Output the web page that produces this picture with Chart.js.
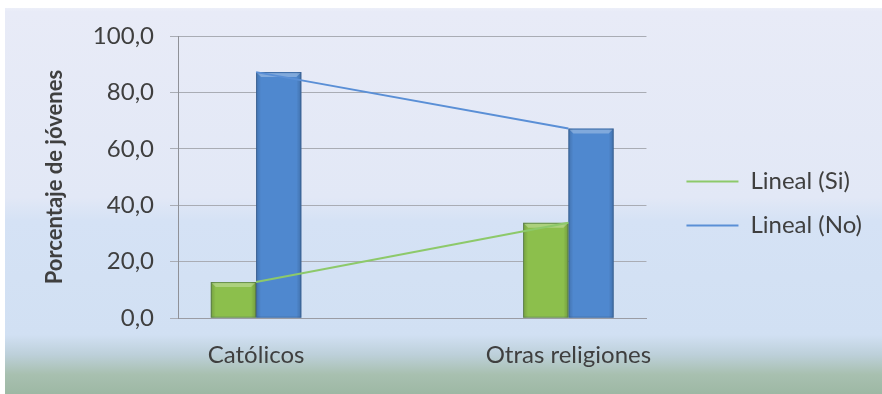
<!DOCTYPE html>
<html>
<head>
<meta charset="utf-8">
<script src="https://cdn.jsdelivr.net/npm/chart.js@4/dist/chart.umd.min.js"></script>
<style>
  html, body { margin: 0; padding: 0; background: #ffffff; }
  #wrap { width: 882px; height: 394px; position: relative; }
</style>
</head>
<body>
<div id="wrap"><canvas id="chart" width="882" height="394"></canvas></div>
<script>
// Porcentaje de jóvenes por religión
const categories = ['Católicos', 'Otras religiones'];
const valuesSi = [12.8, 33.8];
const valuesNo = [87.2, 67.2];
const yTicks = [0, 20, 40, 60, 80, 100];

const FONT = 'Lato, "Open Sans", sans-serif';
const TEXT = '#3f3f3f';

const toPoints = vals => vals.map((v, i) => ({ x: i, y: v }));

// Soft panel background: lavender on top, bluer in the middle, grey-green at the bottom
const panelBackground = {
  id: 'panelBackground',
  beforeDraw(chart) {
    const { ctx, width, height } = chart;
    ctx.save();
    ctx.fillStyle = '#ffffff';
    ctx.fillRect(0, 0, width, height);
    const g = ctx.createLinearGradient(0, 0, 0, height);
    g.addColorStop(0.00, '#f4f6fb');
    g.addColorStop(0.03, '#e8ebf7');
    g.addColorStop(0.50, '#e2e8f6');
    g.addColorStop(0.56, '#d5e2f5');
    g.addColorStop(0.85, '#d1e0f3');
    g.addColorStop(0.90, '#bdd0da');
    g.addColorStop(0.95, '#a8c0b0');
    g.addColorStop(1.00, '#9db8a4');
    ctx.fillStyle = g;
    ctx.fillRect(5, 8, width - 5, height - 8);
    ctx.restore();
  }
};

// Raise the legend block a little above the vertical centre
const legendLift = {
  id: 'legendLift',
  afterLayout(chart) {
    const lg = chart.legend;
    if (!lg) return;
    lg.top -= 11;
    lg.bottom -= 11;
  }
};

// Bevelled look on the columns: shaded sides and a light top facet
const barBevel = {
  id: 'barBevel',
  afterDatasetDraw(chart, args) {
    const meta = args.meta;
    if (meta.type !== 'bar') return;
    const ctx = chart.ctx;
    ctx.save();
    meta.data.forEach(bar => {
      const { x, y, base, width } = bar.getProps(['x', 'y', 'base', 'width'], true);
      const l = x - width / 2, r = x + width / 2, t = y, b = base;
      const e = 5;
      let g = ctx.createLinearGradient(l, 0, l + e, 0);
      g.addColorStop(0, 'rgba(0,0,0,0.16)');
      g.addColorStop(1, 'rgba(0,0,0,0)');
      ctx.fillStyle = g;
      ctx.fillRect(l, t, e, b - t);
      g = ctx.createLinearGradient(r - e, 0, r, 0);
      g.addColorStop(0, 'rgba(0,0,0,0)');
      g.addColorStop(1, 'rgba(0,0,0,0.18)');
      ctx.fillStyle = g;
      ctx.fillRect(r - e, t, e, b - t);
      ctx.beginPath();
      ctx.moveTo(l + 1, t + 1);
      ctx.lineTo(r - 1, t + 1);
      ctx.lineTo(r - e, t + e);
      ctx.lineTo(l + e, t + e);
      ctx.closePath();
      ctx.fillStyle = 'rgba(255,255,255,0.28)';
      ctx.fill();
      ctx.strokeStyle = 'rgba(40,60,90,0.35)';
      ctx.lineWidth = 1;
      ctx.strokeRect(l + 0.5, t + 0.5, width - 1, b - t - 1);
    });
    ctx.restore();
  }
};

const chart = new Chart(document.getElementById('chart'), {
  data: {
    datasets: [
      {
        type: 'line', label: 'Lineal (Si)', data: toPoints(valuesSi),
        borderColor: '#8dc96a', backgroundColor: '#8dc96a', borderWidth: 2,
        pointRadius: 0, order: 0
      },
      {
        type: 'line', label: 'Lineal (No)', data: toPoints(valuesNo),
        borderColor: '#5a8fd6', backgroundColor: '#5a8fd6', borderWidth: 2,
        pointRadius: 0, order: 0
      },
      {
        type: 'bar', label: 'Si', data: toPoints(valuesSi),
        backgroundColor: '#8cbf4c', borderWidth: 0,
        categoryPercentage: 0.29, barPercentage: 1, order: 1
      },
      {
        type: 'bar', label: 'No', data: toPoints(valuesNo),
        backgroundColor: '#4f88cf', borderWidth: 0,
        categoryPercentage: 0.29, barPercentage: 1, order: 1
      }
    ]
  },
  options: {
    responsive: false,
    animation: false,
    events: [],
    layout: { padding: { top: 36, right: 10, bottom: 1, left: 0 } },
    plugins: {
      tooltip: { enabled: false },
      legend: {
        position: 'right',
        align: 'center',
        maxWidth: 224,
        labels: {
          color: TEXT,
          font: { family: FONT, size: 24 },
          boxWidth: 52,
          boxHeight: 2,
          padding: 20,
          generateLabels(chart) {
            return Chart.defaults.plugins.legend.labels.generateLabels(chart)
              .filter(item => chart.data.datasets[item.datasetIndex].type === 'line')
              .map(item => Object.assign(item, { fillStyle: item.strokeStyle, lineWidth: 0 }));
          }
        }
      }
    },
    scales: {
      x: {
        type: 'linear',
        min: -0.25,
        max: 1.25,
        offset: false,
        afterBuildTicks(scale) {
          scale.ticks = categories.map((_, i) => ({ value: i }));
        },
        grid: { display: false, drawTicks: false },
        border: { display: true, color: '#9a9ca4', width: 1 },
        ticks: {
          color: TEXT,
          font: { family: FONT, size: 24 },
          padding: 23,
          maxRotation: 0,
          autoSkip: false,
          callback: v => categories[v]
        }
      },
      y: {
        min: 0,
        max: 100,
        afterBuildTicks(scale) {
          scale.ticks = yTicks.map(v => ({ value: v }));
        },
        afterFit(scale) { scale.width = 178; },
        grid: { color: '#a9acb4', lineWidth: 1, tickLength: 8, drawTicks: true },
        border: { display: true, color: '#8f9198', width: 1 },
        ticks: {
          color: TEXT,
          font: { family: FONT, size: 24 },
          padding: 16,
          callback: v => v.toFixed(1).replace('.', ',')
        },
        title: {
          display: true,
          text: 'Porcentaje de jóvenes',
          color: TEXT,
          font: { family: FONT, size: 22, weight: 'bold' },
          padding: { top: 42, bottom: 0 }
        }
      },
      // empty strip between the plot and the legend
      gap: {
        type: 'linear',
        position: 'right',
        display: true,
        grid: { display: false, drawTicks: false },
        border: { display: false },
        ticks: { display: false },
        afterFit(scale) { scale.width = 20; }
      }
    }
  },
  plugins: [panelBackground, legendLift, barBevel]
});
</script>
</body>
</html>
